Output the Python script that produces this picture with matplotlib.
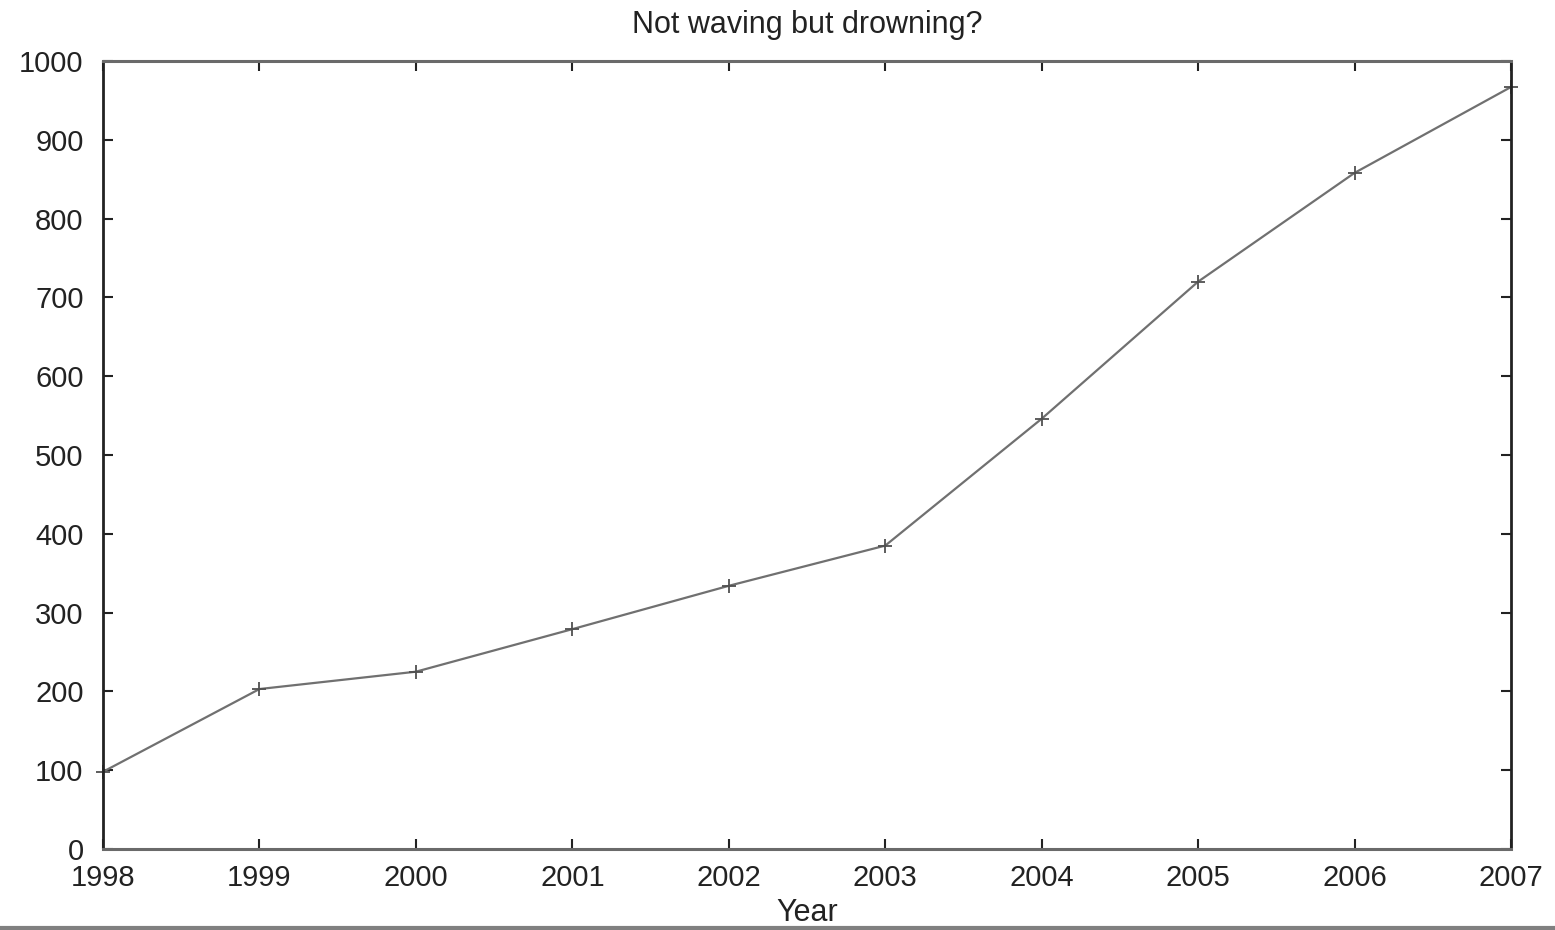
import matplotlib
matplotlib.use("Agg")
import matplotlib.pyplot as plt
from matplotlib.lines import Line2D

years = [1998, 1999, 2000, 2001, 2002, 2003, 2004, 2005, 2006, 2007]
values = [98, 203, 225, 279, 334, 385, 546, 720, 858, 967]
y_ticks = [0, 100, 200, 300, 400, 500, 600, 700, 800, 900, 1000]
title = "Not waving but drowning?"
xlabel = "Year"

plt.rcParams['font.family'] = ['Liberation Sans', 'DejaVu Sans']

fig = plt.figure(figsize=(15.55, 9.3), dpi=100)
ax = fig.add_axes([103/1555, 1 - 849/930, (1511-103)/1555, (849-61)/930])

ax.plot(years, values, color='#707070', lw=1.6, marker='+', ms=10, mew=1.3,
        mec='#505050', clip_on=False)

ax.set_xlim(1998, 2007)
ax.set_ylim(0, 1000)
ax.set_xticks(years)
ax.set_xticklabels([str(y) for y in years])
ax.set_yticks(y_ticks)
ax.set_yticklabels([str(v) for v in y_ticks])

ax.tick_params(axis='both', direction='in', length=7, width=1.5, color='#222222',
               top=True, right=True, labelsize=21, labelcolor='#222222')
ax.tick_params(axis='x', pad=11)
ax.tick_params(axis='y', pad=14)

for side in ['left', 'right']:
    ax.spines[side].set_color('#222222')
    ax.spines[side].set_linewidth(2.0)
for side in ['top', 'bottom']:
    ax.spines[side].set_color('#6a6a6a')
    ax.spines[side].set_linewidth(2.2)

ax.set_title(title, fontsize=22, color='#222222', pad=20)
ax.set_xlabel(xlabel, fontsize=22, color='#222222', labelpad=4)

fig.add_artist(Line2D([0, 1], [1 - 928/930, 1 - 928/930], transform=fig.transFigure,
                      color='#808080', lw=3))

fig.savefig("out.png", dpi=100)
